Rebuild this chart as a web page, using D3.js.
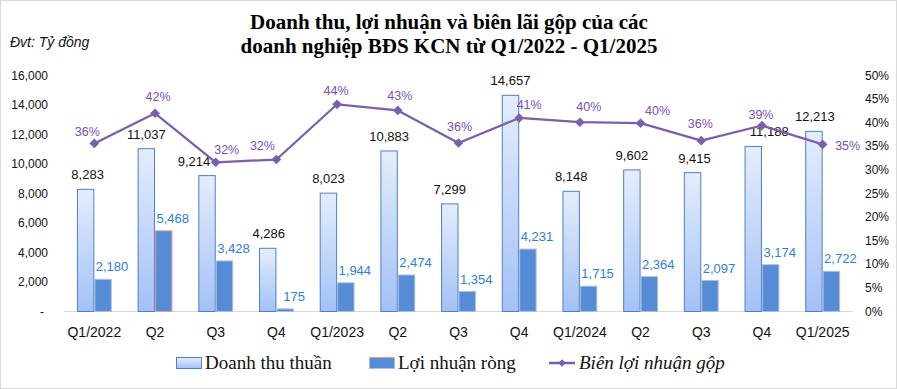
<!DOCTYPE html>
<html lang="vi">
<head>
<meta charset="UTF-8" />
<title>Doanh thu, lợi nhuận và biên lãi gộp BĐS KCN</title>
<script src="https://d3js.org/d3.v7.min.js"></script>
<style>
  body { margin: 0; background: #fff; }
  svg { display: block; }
  .tick-l, .tick-r, .xlab { font-family: "Liberation Sans", Arial, sans-serif; fill: #111; }
  .title { font-family: "Liberation Serif", serif; font-weight: bold; font-size: 21px; fill: #000; }
  .unit { font-family: "Liberation Sans", sans-serif; font-style: italic; font-size: 14px; fill: #111; }
  .legend text { font-family: "Liberation Serif", serif; font-size: 19px; fill: #111; }
</style>
</head>
<body>
<svg id="chart" width="897" height="389"></svg>
<script>
var quarters = ["Q1/2022", "Q2", "Q3", "Q4", "Q1/2023", "Q2", "Q3", "Q4",
                "Q1/2024", "Q2", "Q3", "Q4", "Q1/2025"];
var revenue = [8283, 11037, 9214, 4286, 8023, 10883, 7299, 14657, 8148, 9602, 9415, 11188, 12213];
var profit  = [2180, 5468, 3428, 175, 1944, 2474, 1354, 4231, 1715, 2364, 2097, 3174, 2722];
var grossMargin = [0.356, 0.420, 0.316, 0.322, 0.439, 0.426, 0.357, 0.410, 0.401, 0.399, 0.362, 0.394, 0.354];
var leftTicks = [0, 2000, 4000, 6000, 8000, 10000, 12000, 14000, 16000];
var rightTicks = [0, 0.05, 0.1, 0.15, 0.2, 0.25, 0.3, 0.35, 0.4, 0.45, 0.5];

// label nudges (Excel moved a few by hand)
var pctDx = [-7, 3, 11, -14, -1, 2, 1, 10, 9, 17, -1, -1, 25];
var pctDy = [-12, -17, -13, -14, -14, -15, -16, -13, -16, -13, -17, -11, 1];
var revDx = [2, 0, -13, 1, 0, 0, 0, 0, 0, 0, 2, 16, 1];

var svg = d3.select("#chart");
var W = 897, H = 389;

svg.append("rect")
  .attr("x", 0.5).attr("y", 0.5)
  .attr("width", W - 1).attr("height", H - 1)
  .attr("fill", "#fff").attr("stroke", "#d9d9d9");

var x = d3.scaleBand()
  .domain(d3.range(quarters.length))
  .range([64, 853])
  .padding(0);

var yL = d3.scaleLinear().domain([0, 16000]).range([311.5, 75.5]);
var yR = d3.scaleLinear().domain([0, 0.5]).range([311.5, 75.5]);

var bw = x.bandwidth() * 0.287;
function cx(i) { return x(i) + x.bandwidth() / 2; }

var defs = svg.append("defs");
var grad = defs.append("linearGradient")
  .attr("id", "revGrad")
  .attr("x1", 0).attr("y1", 0).attr("x2", 0).attr("y2", 1);
grad.append("stop").attr("offset", "0%").attr("stop-color", "#e4edfc");
grad.append("stop").attr("offset", "100%").attr("stop-color", "#a3c1f6");

// title
svg.append("text").attr("class", "title")
  .attr("x", 449).attr("y", 29).attr("text-anchor", "middle")
  .text("Doanh thu, lợi nhuận và biên lãi gộp của các");
svg.append("text").attr("class", "title")
  .attr("x", 449).attr("y", 53).attr("text-anchor", "middle")
  .text("doanh nghiệp BĐS KCN từ Q1/2022 - Q1/2025");
svg.append("text").attr("class", "unit")
  .attr("x", 10).attr("y", 47)
  .text("Đvt: Tỷ đồng");

// left axis labels
svg.append("g").selectAll("text")
  .data(leftTicks)
  .enter()
  .append("text")
  .attr("class", "tick-l")
  .attr("x", function (d) { return d === 0 ? 44 : 48; })
  .attr("y", function (d) { return yL(d) + 4; })
  .attr("text-anchor", "end")
  .style("font-size", "12px")
  .text(function (d) { return d === 0 ? "-" : d3.format(",")(d); });

// right axis labels
svg.append("g").selectAll("text")
  .data(rightTicks)
  .enter()
  .append("text")
  .attr("class", "tick-r")
  .attr("x", 865)
  .attr("y", function (d) { return yR(d) + 4; })
  .style("font-size", "12px")
  .text(function (d) { return Math.round(d * 100) + "%"; });

// baseline
svg.append("line")
  .attr("x1", 64).attr("x2", 853)
  .attr("y1", yL(0)).attr("y2", yL(0))
  .attr("stroke", "#d9d9d9").attr("stroke-width", 1);

// x labels
svg.append("g").selectAll("text")
  .data(quarters)
  .enter()
  .append("text")
  .attr("class", "xlab")
  .attr("x", function (d, i) { return cx(i); })
  .attr("y", 337)
  .attr("text-anchor", "middle")
  .style("font-size", "14px")
  .text(function (d) { return d; });

// revenue bars
svg.append("g").selectAll("rect")
  .data(revenue)
  .enter()
  .append("rect")
  .attr("x", function (d, i) { return cx(i) - bw + 0.5; })
  .attr("y", function (d) { return yL(d); })
  .attr("width", bw - 1)
  .attr("height", function (d) { return yL(0) - yL(d); })
  .attr("fill", "url(#revGrad)")
  .attr("stroke", "#4f7fc7")
  .attr("stroke-width", 1);

// profit bars
svg.append("g").selectAll("rect")
  .data(profit)
  .enter()
  .append("rect")
  .attr("x", function (d, i) { return cx(i) + 0.5; })
  .attr("y", function (d) { return yL(d); })
  .attr("width", bw - 1)
  .attr("height", function (d) { return yL(0) - yL(d); })
  .attr("fill", "#558cd5")
  .attr("stroke", function (d, i) { return i === 1 ? "#e79a9a" : "#a9bde0"; })
  .attr("stroke-width", 1);

// revenue labels
svg.append("g").selectAll("text")
  .data(revenue)
  .enter()
  .append("text")
  .attr("x", function (d, i) { return cx(i) - bw / 2 + revDx[i]; })
  .attr("y", function (d) { return yL(d) - 10; })
  .attr("text-anchor", "middle")
  .style("font-family", "Liberation Sans, sans-serif")
  .style("font-size", "13px")
  .style("fill", "#111")
  .text(function (d) { return d3.format(",")(d); });

// profit labels
svg.append("g").selectAll("text")
  .data(profit)
  .enter()
  .append("text")
  .attr("x", function (d, i) { return cx(i) + bw / 2 + 9; })
  .attr("y", function (d) { return yL(d) - 8; })
  .attr("text-anchor", "middle")
  .style("font-family", "Liberation Sans, sans-serif")
  .style("font-size", "13px")
  .style("fill", "#2f7fd1")
  .text(function (d) { return d3.format(",")(d); });

// margin line
var line = d3.line()
  .x(function (d, i) { return cx(i); })
  .y(function (d) { return yR(d); });

svg.append("path")
  .datum(grossMargin)
  .attr("d", line)
  .attr("fill", "none")
  .attr("stroke", "#7b5fa9")
  .attr("stroke-width", 2.25)
  .attr("stroke-linejoin", "round");

var diamond = d3.symbol().type(d3.symbolDiamond2).size(60);
svg.append("g").selectAll("path")
  .data(grossMargin)
  .enter()
  .append("path")
  .attr("d", diamond)
  .attr("transform", function (d, i) { return "translate(" + cx(i) + "," + yR(d) + ")"; })
  .attr("fill", "#7b5fa9");

svg.append("g").selectAll("text")
  .data(grossMargin)
  .enter()
  .append("text")
  .attr("x", function (d, i) { return cx(i) + pctDx[i]; })
  .attr("y", function (d, i) { return yR(d) + pctDy[i] + 4.5; })
  .attr("text-anchor", "middle")
  .style("font-family", "Liberation Sans, sans-serif")
  .style("font-size", "12.5px")
  .style("fill", "#7d4fb4")
  .text(function (d) { return Math.round(d * 100) + "%"; });

// legend
var lg = svg.append("g").attr("class", "legend");
lg.append("rect")
  .attr("x", 176.5).attr("y", 357.5).attr("width", 25).attr("height", 11)
  .attr("fill", "url(#revGrad)").attr("stroke", "#4f7fc7");
lg.append("text").attr("x", 205).attr("y", 369).text("Doanh thu thuần");

lg.append("rect")
  .attr("x", 369.5).attr("y", 357.5).attr("width", 25).attr("height", 11)
  .attr("fill", "#558cd5").attr("stroke", "#a9bde0");
lg.append("line")
  .attr("x1", 369.5).attr("x2", 394.5).attr("y1", 357.5).attr("y2", 357.5)
  .attr("stroke", "#e79a9a");
lg.append("text").attr("x", 398).attr("y", 369).text("Lợi nhuận ròng");

lg.append("line")
  .attr("x1", 549).attr("x2", 575).attr("y1", 363).attr("y2", 363)
  .attr("stroke", "#7b5fa9").attr("stroke-width", 2.5);
lg.append("path")
  .attr("d", d3.symbol().type(d3.symbolDiamond2).size(36))
  .attr("transform", "translate(562,363)")
  .attr("fill", "#7b5fa9");
lg.append("text").attr("x", 579).attr("y", 369)
  .style("font-style", "italic")
  .text("Biên lợi nhuận gộp");
</script>
</body>
</html>
